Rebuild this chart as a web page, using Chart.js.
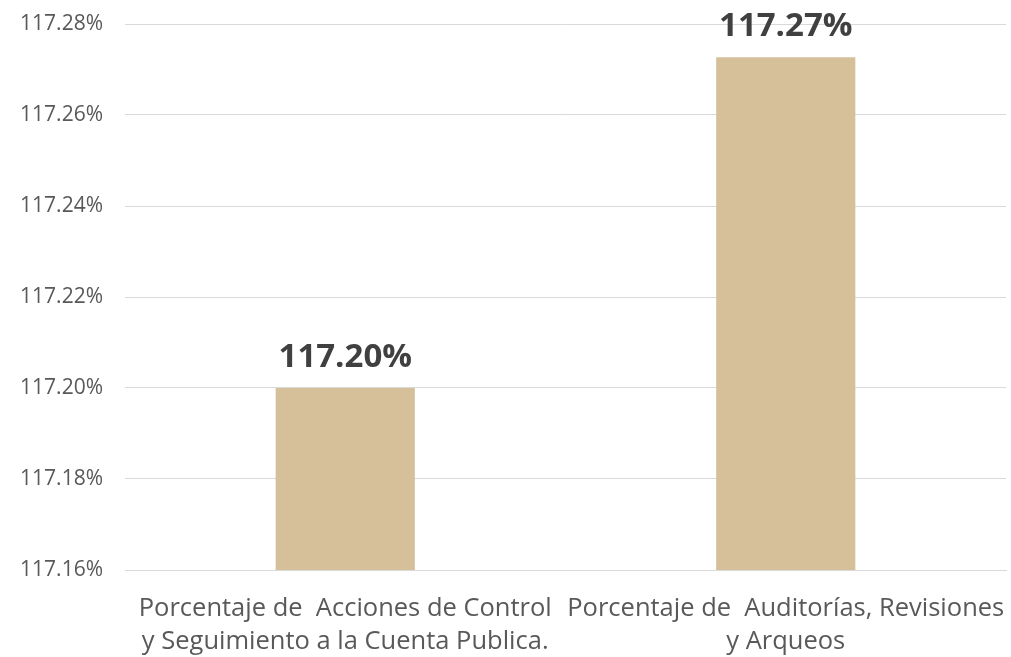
<!DOCTYPE html>
<html>
<head>
<meta charset="utf-8">
<script src="https://cdn.jsdelivr.net/npm/chart.js@4/dist/chart.umd.min.js"></script>
<style>
  html, body { margin: 0; padding: 0; background: #fff; }
  #wrap { width: 1011px; height: 657px; }
</style>
</head>
<body>
<div id="wrap"><canvas id="chart"></canvas></div>
<script>
// chart data
const categories = [
  ['Porcentaje de  Acciones de Control', 'y Seguimiento a la Cuenta Publica.'],
  ['Porcentaje de  Auditorías, Revisiones', 'y Arqueos']
];
const values = [117.20, 117.2727];
const yTicks = [117.16, 117.18, 117.20, 117.22, 117.24, 117.26, 117.28];

const fontFamily = '"Open Sans", "Liberation Sans", sans-serif';

// draws the value above each bar
const valueLabels = {
  id: 'valueLabels',
  afterDatasetsDraw(chart) {
    const ctx = chart.ctx;
    const meta = chart.getDatasetMeta(0);
    ctx.save();
    ctx.font = 'bold 33px ' + fontFamily;
    ctx.fillStyle = '#404040';
    ctx.textAlign = 'center';
    ctx.textBaseline = 'bottom';
    meta.data.forEach((bar, i) => {
      ctx.fillText(values[i].toFixed(2) + '%', bar.x, bar.y - 14);
    });
    ctx.restore();
  }
};

new Chart(document.getElementById('chart'), {
  type: 'bar',
  data: {
    labels: categories,
    datasets: [{
      data: values,
      backgroundColor: '#d5c09a',
      barPercentage: 0.632,
      categoryPercentage: 0.5
    }]
  },
  options: {
    responsive: true,
    maintainAspectRatio: false,
    animation: false,
    layout: { padding: { top: 24, right: 5, left: 0, bottom: 0 } },
    plugins: {
      legend: { display: false },
      tooltip: { enabled: false }
    },
    scales: {
      x: {
        grid: { display: false },
        border: { color: '#d9d9d9', width: 1 },
        ticks: {
          color: '#595959',
          font: { family: fontFamily, size: 25.5, lineHeight: 1.3 },
          maxRotation: 0,
          autoSkip: false,
          padding: 14
        },
        afterFit(scale) {
          scale.height = 87;
          scale.paddingLeft = 0;
          scale.paddingRight = 0;
        }
      },
      y: {
        min: yTicks[0],
        max: yTicks[yTicks.length - 1],
        afterBuildTicks(scale) {
          scale.ticks = yTicks.map(v => ({ value: v }));
        },
        grid: { color: '#d9d9d9', drawTicks: false },
        border: { display: false },
        ticks: {
          color: '#595959',
          font: { family: fontFamily, size: 21 },
          padding: 22,
          callback: v => v.toFixed(2) + '%'
        },
        afterFit(scale) {
          scale.width = 125;
          scale.paddingTop = 0;
          scale.paddingBottom = 0;
        }
      }
    }
  },
  plugins: [valueLabels]
});
</script>
</body>
</html>
